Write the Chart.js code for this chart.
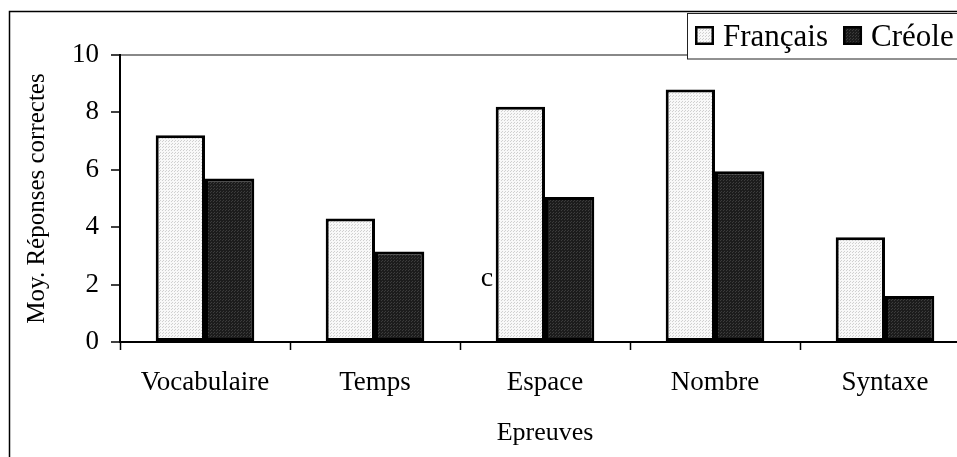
<!DOCTYPE html>
<html>
<head>
<meta charset="utf-8">
<script src="https://cdn.jsdelivr.net/npm/chart.js@4/dist/chart.umd.min.js"></script>
<style>
  html, body { margin: 0; padding: 0; background: #fff; overflow: hidden; }
  #wrap { width: 957px; height: 457px; overflow: hidden; }
</style>
</head>
<body>
<div id="wrap"><canvas id="barChart" width="990" height="457"></canvas></div>
<script>
// data
var categories = ['Vocabulaire', 'Temps', 'Espace', 'Nombre', 'Syntaxe'];
var francais = [7.2, 4.3, 8.2, 8.8, 3.65];
var creole = [5.7, 3.15, 5.05, 5.95, 1.6];
var yTicks = [0, 2, 4, 6, 8, 10];

var serif = "'Liberation Serif', 'Times New Roman', serif";

// small dotted fills like the print patterns
function dots(bg, fg) {
	var c = document.createElement('canvas');
	c.width = 3; c.height = 3;
	var g = c.getContext('2d');
	g.fillStyle = bg;
	g.fillRect(0, 0, 3, 3);
	g.fillStyle = fg;
	g.fillRect(0, 0, 1, 1);
	g.fillRect(1, 2, 1, 1);
	return g.createPattern(c, 'repeat');
}

// frame round the whole picture
var framePlugin = {
	id: 'frame',
	beforeDraw: function(chart) {
		var ctx = chart.ctx;
		ctx.save();
		ctx.fillStyle = '#fff';
		ctx.fillRect(0, 0, chart.width, chart.height);
		ctx.strokeStyle = '#000';
		ctx.lineWidth = 1.5;
		ctx.strokeRect(9.5, 11.5, 2000, 2000);
		ctx.restore();
	}
};

// boxed legend in the top right corner + the stray "c"
var legendPlugin = {
	id: 'boxLegend',
	afterDraw: function(chart) {
		var ctx = chart.ctx;
		ctx.save();
		ctx.fillStyle = '#fff';
		ctx.fillRect(687, 13, 400, 46);
		ctx.strokeStyle = '#222';
		ctx.lineWidth = 1;
		ctx.strokeRect(687.5, 13.5, 400, 45.5);

		ctx.font = '31px ' + serif;
		ctx.textBaseline = 'alphabetic';
		var x = 695;
		chart.data.datasets.forEach(function(ds) {
			ctx.fillStyle = ds.backgroundColor;
			ctx.fillRect(x, 26, 19, 19);
			ctx.strokeStyle = '#000';
			ctx.lineWidth = 2.5;
			ctx.strokeRect(x + 1.25, 27.25, 16.5, 16.5);
			ctx.fillStyle = '#000';
			ctx.fillText(ds.label, x + 28, 46);
			x += 28 + ctx.measureText(ds.label).width + 15;
		});

		ctx.font = '28px ' + serif;
		ctx.fillStyle = '#000';
		ctx.textAlign = 'center';
		ctx.textBaseline = 'middle';
		ctx.fillText('c', 487, 279);
		ctx.restore();
	}
};

var ctx = document.getElementById('barChart').getContext('2d');

var chart = new Chart(ctx, {
	type: 'bar',
	data: {
		labels: categories,
		datasets: [{
			label: 'Français',
			data: francais,
			backgroundColor: dots('#f8f8f8', '#d0d0d0'),
			borderColor: '#000',
			borderWidth: 3,
			borderSkipped: false,
			categoryPercentage: 0.58,
			barPercentage: 1.0
		}, {
			label: 'Créole',
			data: creole,
			backgroundColor: dots('#1c1c1c', '#3c3c3c'),
			borderColor: '#000',
			borderWidth: 3,
			borderSkipped: false,
			categoryPercentage: 0.58,
			barPercentage: 1.0
		}]
	},
	options: {
		responsive: false,
		animation: false,
		devicePixelRatio: 1,
		layout: { padding: { top: 55, right: 20, left: 0, bottom: 0 } },
		plugins: {
			legend: { display: false },
			tooltip: { enabled: false }
		},
		scales: {
			x: {
				afterFit: function(s) { s.height = 115; },
				grid: {
					offset: true,
					drawOnChartArea: false,
					drawTicks: true,
					tickLength: 8,
					tickColor: '#000',
					tickWidth: 1.5
				},
				border: { color: '#000', width: 2 },
				ticks: {
					color: '#000',
					padding: 17,
					font: { family: serif, size: 27 }
				},
				title: {
					display: true,
					text: 'Epreuves',
					color: '#000',
					font: { family: serif, size: 26 },
					padding: { top: 0, bottom: 8 }
				}
			},
			y: {
				min: 0,
				max: 10,
				afterFit: function(s) { s.width = 120; },
				afterBuildTicks: function(s) {
					s.ticks = yTicks.map(function(v) { return { value: v }; });
				},
				grid: {
					color: function(c) { return c.tick && c.tick.value === 10 ? '#888' : 'rgba(0,0,0,0)'; },
					lineWidth: 2,
					tickColor: '#000',
					tickLength: 9,
					tickWidth: 1.5
				},
				border: { color: '#000', width: 2 },
				ticks: {
					color: '#000',
					padding: 12,
					font: { family: serif, size: 27 }
				},
				title: {
					display: true,
					text: 'Moy. Réponses correctes',
					color: '#000',
					font: { family: serif, size: 25 },
					padding: { top: 22, bottom: 0 }
				}
			}
		}
	},
	plugins: [framePlugin, legendPlugin]
});
</script>
</body>
</html>
